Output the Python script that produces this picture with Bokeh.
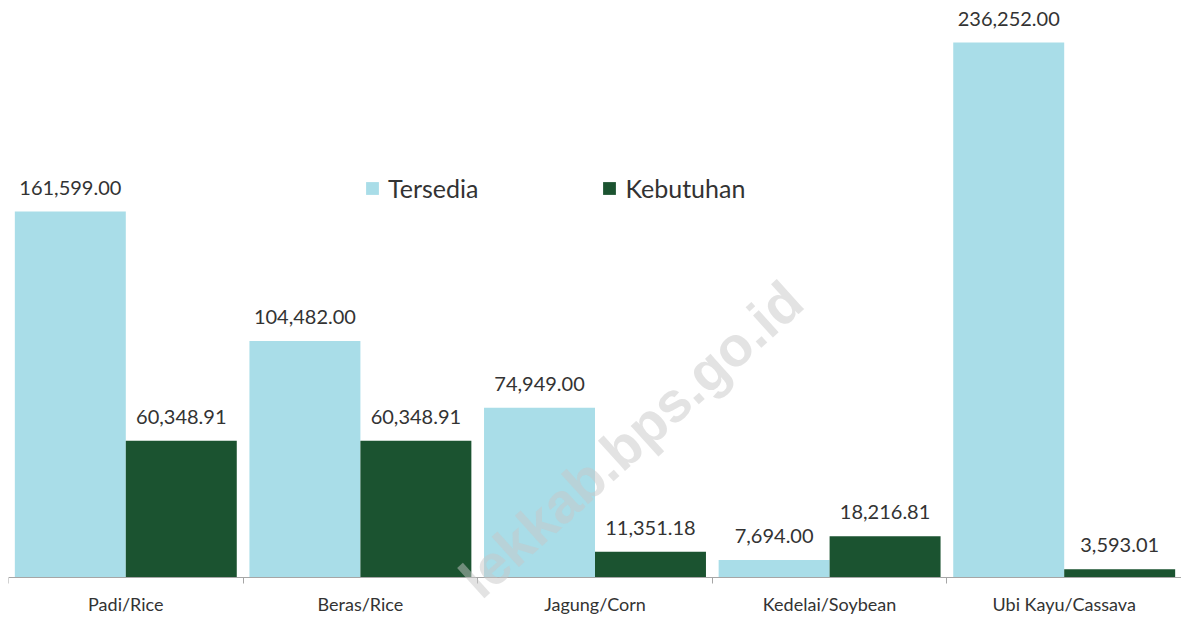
from bokeh.plotting import figure
from bokeh.models import (ColumnDataSource, FixedTicker, Legend, LegendItem, Label, Range1d)
from bokeh.embed import file_html
from bokeh.resources import INLINE
import numpy as np

categories = ["Padi/Rice", "Beras/Rice", "Jagung/Corn", "Kedelai/Soybean", "Ubi Kayu/Cassava"]
tersedia = [161599.00, 104482.00, 74949.00, 7694.00, 236252.00]
kebutuhan = [60348.91, 60348.91, 11351.18, 18216.81, 3593.01]
series_names = ["Tersedia", "Kebutuhan"]

FONT = "Lato"
TXT = "#333333"
C_T = "#a9dde8"
C_K = "#1b5330"

n = len(categories)
centers = np.arange(n) + 0.5
bw = 0.473
off = 0.2365

src_t = ColumnDataSource(dict(x=centers - off, top=tersedia,
                              lab=[f"{v:,.2f}" for v in tersedia]))
src_k = ColumnDataSource(dict(x=centers + off, top=kebutuhan,
                              lab=[f"{v:,.2f}" for v in kebutuhan]))

p = figure(frame_width=1173, frame_height=612, output_backend="svg", toolbar_location=None,
           x_range=Range1d(0, n), y_range=Range1d(-18990, 251270),
           min_border_left=8, min_border_right=0, min_border_top=8, min_border_bottom=0)
p.outline_line_color = None
p.background_fill_color = "white"
p.border_fill_color = "white"
p.xgrid.visible = False
p.ygrid.visible = False
p.yaxis.visible = False

rt = p.vbar(x="x", top="top", width=bw, source=src_t, fill_color=C_T, line_color=None)
rk = p.vbar(x="x", top="top", width=bw, source=src_k, fill_color=C_K, line_color=None)

for s in (src_t, src_k):
    p.text(x="x", y="top", text="lab", source=s, text_align="center", text_baseline="bottom",
           y_offset=-17, text_font_size="20px", text_color=TXT,
           text_font={"value": FONT})

ax = p.xaxis[0]
ax.fixed_location = 0
ax.ticker = FixedTicker(ticks=list(centers), minor_ticks=list(range(n + 1)))
ax.major_label_overrides = {float(c): cat for c, cat in zip(centers, categories)}
ax.major_tick_line_color = None
ax.minor_tick_line_color = "#a6a6a6"
ax.minor_tick_out = 6
ax.minor_tick_in = 0
ax.axis_line_color = "#a6a6a6"
ax.axis_line_width = 1
ax.major_label_text_font = FONT
ax.major_label_text_font_size = "18px"
ax.major_label_text_color = TXT
ax.major_label_standoff = 10

legend = Legend(items=[LegendItem(label=series_names[0], renderers=[rt]),
                       LegendItem(label=series_names[1], renderers=[rk])],
                orientation="horizontal", location=(356, 417),
                glyph_width=16, glyph_height=16, label_standoff=8, spacing=123,
                padding=0, margin=0, border_line_color=None, background_fill_alpha=0,
                label_text_font=FONT, label_text_font_size="25px", label_text_color=TXT,
                label_height=24)
p.add_layout(legend, "center")

wm = Label(x=2.05, y=-14200, text="lekkab.bps.go.id", angle=0.735,
           text_font="Liberation Sans", text_font_style="bold", text_font_size="56px",
           text_color="#c8c8c8", text_alpha=0.5)
p.add_layout(wm)

open("out.html", "w").write(file_html(p, INLINE))
